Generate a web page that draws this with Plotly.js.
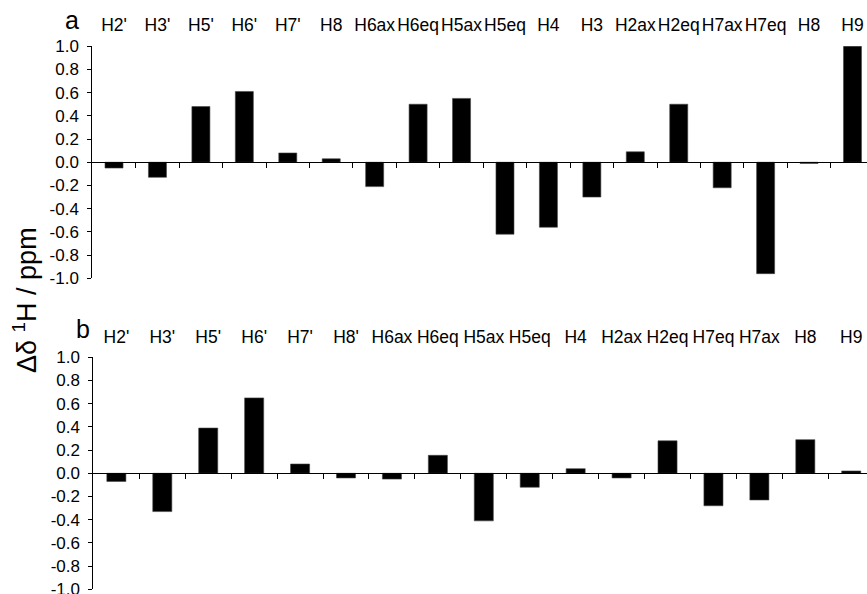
<!DOCTYPE html>
<html>
<head>
<meta charset="utf-8">
<script src="https://cdn.plot.ly/plotly-3.0.1.min.js"></script>
<style>html,body{margin:0;padding:0;background:#fff;} #chart{width:867px;height:594px;}</style>
</head>
<body>
<div id="chart"></div>
<script>
// Panel a
const labelsA = ["H2'", "H3'", "H5'", "H6'", "H7'", "H8", "H6ax", "H6eq", "H5ax", "H5eq", "H4", "H3", "H2ax", "H2eq", "H7ax", "H7eq", "H8", "H9"];
const valuesA = [-0.05, -0.13, 0.48, 0.61, 0.08, 0.03, -0.21, 0.50, 0.55, -0.62, -0.56, -0.30, 0.09, 0.50, -0.22, -0.96, -0.01, 1.02];
// Panel b
const labelsB = ["H2'", "H3'", "H5'", "H6'", "H7'", "H8'", "H6ax", "H6eq", "H5ax", "H5eq", "H4", "H2ax", "H2eq", "H7eq", "H7ax", "H8", "H9"];
const valuesB = [-0.07, -0.33, 0.39, 0.65, 0.08, -0.04, -0.05, 0.155, -0.41, -0.12, 0.04, -0.04, 0.28, -0.28, -0.23, 0.29, 0.02];
// y ticks
const yTickVals = [-1.0, -0.8, -0.6, -0.4, -0.2, 0.0, 0.2, 0.4, 0.6, 0.8, 1.0];
const yTickText = ["-1.0", "-0.8", "-0.6", "-0.4", "-0.2", "0.0", "0.2", "0.4", "0.6", "0.8", "1.0"];
const panelTags = ["a", "b"];
const yTitle = "\u0394\u03b4 <sup>1</sup>H / ppm";

const W = 867, H = 594;
const idxA = labelsA.map((_, i) => i);
const idxB = labelsB.map((_, i) => i);
const bndA = labelsA.slice(1).map((_, i) => i + 0.5);
const bndB = labelsB.slice(1).map((_, i) => i + 0.5);

const font = "Liberation Sans, Arial, sans-serif";
const domA = [92.3 / W, 1];
const domB = [93.4 / W, 1];
const yDomA = [(H - 278.3) / H, (H - 46.2) / H];
const yDomB = [(H - 589.3) / H, (H - 357.3) / H];
const rangeA = [-0.5, -0.5 + (W - 92.3) / 43.44];
const rangeB = [-0.5, -0.5 + (W - 93.4) / 45.93];

const traces = [
  {type: 'bar', x: idxA, y: valuesA, xaxis: 'x', yaxis: 'y',
   marker: {color: '#000', line: {color: '#444', width: 0.6}}, hoverinfo: 'skip'},
  {type: 'bar', x: idxB, y: valuesB, xaxis: 'x2', yaxis: 'y2',
   marker: {color: '#000', line: {color: '#444', width: 0.6}}, hoverinfo: 'skip'},
  // empty traces so the zero-line axes get a subplot and are drawn
  {type: 'scatter', x: [], y: [], xaxis: 'x3', yaxis: 'y', hoverinfo: 'skip'},
  {type: 'scatter', x: [], y: [], xaxis: 'x4', yaxis: 'y2', hoverinfo: 'skip'}
];

function labelAxis(dom, range, vals, text, anchor, standoff, size) {
  return {domain: dom, range: range, anchor: anchor, side: 'top', tickmode: 'array',
    tickvals: vals, ticktext: text, ticks: '', showline: false, showgrid: false,
    zeroline: false, ticklabelstandoff: standoff, ticklabeloverflow: 'allow', tickangle: 0,
    tickfont: {family: font, size: size, color: '#000'}, fixedrange: true};
}
function zeroAxis(dom, range, vals, over, ydom) {
  return {domain: dom, range: range, overlaying: over, anchor: 'free',
    position: (ydom[0] + ydom[1]) / 2, side: 'bottom', tickmode: 'array', tickvals: vals,
    ticks: 'outside', ticklen: 5, tickwidth: 1, tickcolor: '#000', showticklabels: false,
    showline: true, linecolor: '#000', linewidth: 1, showgrid: false, zeroline: false};
}
function yAxis(ydom, anchor) {
  return {domain: ydom, range: [-1, 1], anchor: anchor, tickmode: 'array',
    tickvals: yTickVals, ticktext: yTickText, ticks: 'outside', ticklen: 4,
    tickcolor: '#000', showline: true, linecolor: '#000', linewidth: 1,
    showgrid: false, zeroline: false, ticklabelstandoff: 5, ticklabeloverflow: 'allow',
    tickfont: {family: font, size: 17, color: '#000'}};
}

const layout = {
  width: W, height: H,
  margin: {l: 0, r: 0, t: 0, b: 0},
  paper_bgcolor: '#fff', plot_bgcolor: 'rgba(0,0,0,0)',
  showlegend: false, bargap: 0.585,
  font: {family: font, color: '#000'},
  xaxis: labelAxis(domA, rangeA, idxA, labelsA, 'y', 11, 17.5),
  xaxis2: labelAxis(domB, rangeB, idxB, labelsB, 'y2', 10, 17.5),
  xaxis3: zeroAxis(domA, rangeA, bndA, 'x', yDomA),
  xaxis4: zeroAxis(domB, rangeB, bndB, 'x2', yDomB),
  yaxis: yAxis(yDomA, 'x'),
  yaxis2: yAxis(yDomB, 'x2'),
  annotations: [
    {text: panelTags[0], xref: 'paper', yref: 'paper', x: 72 / W, y: (H - 20) / H,
     showarrow: false, xanchor: 'center', yanchor: 'middle', font: {family: font, size: 25}},
    {text: panelTags[1], xref: 'paper', yref: 'paper', x: 83 / W, y: (H - 329) / H,
     showarrow: false, xanchor: 'center', yanchor: 'middle', font: {family: font, size: 25}},
    {text: yTitle, xref: 'paper', yref: 'paper', x: 25 / W, y: (H - 300) / H, textangle: -90,
     showarrow: false, xanchor: 'center', yanchor: 'middle', font: {family: font, size: 27}}
  ]
};

Plotly.newPlot('chart', traces, layout, {staticPlot: true, displayModeBar: false});
</script>
</body>
</html>
